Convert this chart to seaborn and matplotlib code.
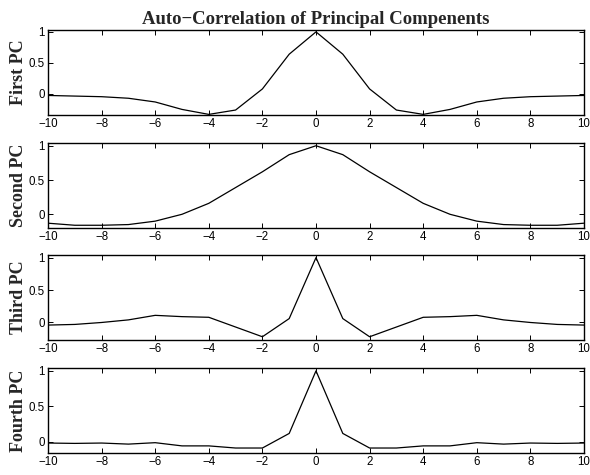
import numpy as np
import pandas as pd
import matplotlib
matplotlib.use("Agg")
import matplotlib.pyplot as plt
import seaborn as sns

lags = list(range(-10, 11))

# one-sided values for lags 0..10 (autocorrelation is symmetric)
first_half = [1.0, 0.64, 0.08, -0.26, -0.33, -0.25, -0.13, -0.07, -0.045, -0.035, -0.025]
second_half = [1.0, 0.87, 0.62, 0.39, 0.16, 0.0, -0.10, -0.15, -0.16, -0.16, -0.13]
third_half = [1.0, 0.06, -0.22, -0.07, 0.08, 0.09, 0.11, 0.04, 0.0, -0.03, -0.04]
fourth_half = [1.0, 0.12, -0.085, -0.085, -0.055, -0.055, -0.01, -0.03, -0.015, -0.02, -0.015]

labels = ["First PC", "Second PC", "Third PC", "Fourth PC"]
ylims = [(-0.34, 1.03), (-0.20, 1.04), (-0.27, 1.04), (-0.155, 1.04)]
yticks = [0, 0.5, 1]
ytick_labels = ["0", "0.5", "1"]
xticks = list(range(-10, 11, 2))
xtick_labels = ["\u221210", "\u22128", "\u22126", "\u22124", "\u22122", "0", "2", "4", "6", "8", "10"]
title = "Auto\u2212Correlation of Principal Compenents"


def full(half):
    return half[:0:-1] + half


series = [full(first_half), full(second_half), full(third_half), full(fourth_half)]

sns.set_style("white")
plt.rcParams["font.family"] = ["Liberation Sans", "DejaVu Sans"]

fig = plt.figure(figsize=(5.9, 4.75), dpi=100)
W, H = 590, 475
left, right = 48, 584
tops = [30, 143, 255, 368]
h = 85

for i in range(4):
    ax = fig.add_axes([left / W, 1 - (tops[i] + h) / H, (right - left) / W, h / H])
    df = pd.DataFrame({"lag": lags, "r": series[i]})
    sns.lineplot(data=df, x="lag", y="r", ax=ax, color="black", linewidth=0.9)
    ax.set_xlim(-10, 10)
    ax.set_ylim(*ylims[i])
    ax.set_xticks(xticks)
    ax.set_xticklabels(xtick_labels, fontsize=8.3)
    ax.set_yticks(yticks)
    ax.set_yticklabels(ytick_labels, fontsize=8.3)
    ax.tick_params(direction="in", length=3.5, width=0.7, top=True, right=True,
                   bottom=True, left=True, pad=2.5, colors="black")
    ax.set_xlabel("")
    ax.set_ylabel(labels[i], fontsize=13, fontweight="bold",
                  family=["Liberation Serif", "DejaVu Serif"], labelpad=1)
    for s in ax.spines.values():
        s.set_visible(True)
        s.set_color("black")
        s.set_linewidth(1.0)
    if i == 0:
        ax.set_title(title, fontsize=13.5, fontweight="bold",
                     family=["Liberation Serif", "DejaVu Serif"], pad=4)

fig.savefig("out.png", dpi=100)
